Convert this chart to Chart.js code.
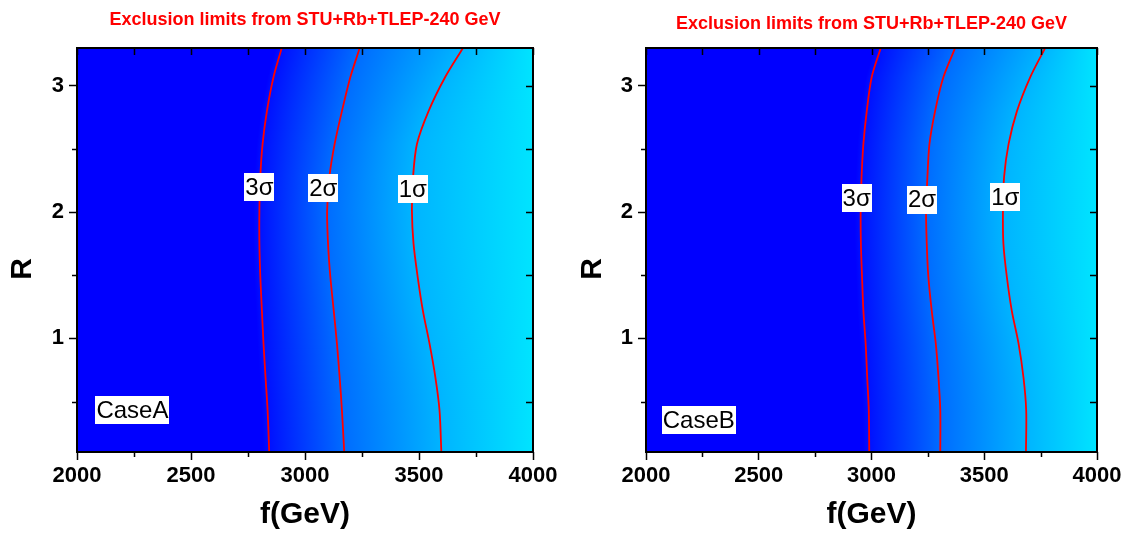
<!DOCTYPE html>
<html lang="en">
<head>
  <meta charset="utf-8">
  <title>Exclusion limits from STU+Rb+TLEP-240 GeV</title>
  <script src="https://cdn.jsdelivr.net/npm/chart.js"></script>
  <style>
    html, body { margin: 0; padding: 0; background: #fff; }
    body { width: 1128px; height: 533px; position: relative; overflow: hidden; }
    .panel { position: absolute; top: 0; width: 564px; height: 533px; }
  </style>
</head>
<body>
  <div class="panel" style="left:0"><canvas id="chartA"></canvas></div>
  <div class="panel" style="left:564px"><canvas id="chartB"></canvas></div>

  <script>
    // ---- data ----
    const titleText = 'Exclusion limits from STU+Rb+TLEP-240 GeV';
    const xTicks = [2000, 2500, 3000, 3500, 4000];
    const xMinor = [2250, 2750, 3250, 3750];
    const yTicks = [1, 2, 3];
    const yMinor = [0.5, 1.5, 2.5];

    // R values where the contours were read (top to bottom)
    const rValues = [3.3, 3.07, 2.80, 2.54, 2.28, 2.01, 1.75, 1.49, 1.22, 0.96, 0.69, 0.43, 0.1];

    // Case A contours, f (GeV) at each R
    const sigma3A = [2898, 2862, 2833, 2814, 2804, 2800, 2800, 2804, 2811, 2818, 2827, 2836, 2843];
    const sigma2A = [3240, 3199, 3162, 3130, 3107, 3097, 3101, 3111, 3126, 3140, 3152, 3162, 3172];
    const sigma1A = [3693, 3615, 3542, 3491, 3474, 3469, 3476, 3494, 3517, 3546, 3572, 3590, 3598];

    // Case B contours
    const sigma3B = [3041, 3001, 2979, 2964, 2956, 2952, 2953, 2958, 2964, 2974, 2981, 2988, 2990];
    const sigma2B = [3371, 3319, 3282, 3257, 3248, 3242, 3245, 3252, 3267, 3285, 3297, 3305, 3305];
    const sigma1B = [3770, 3704, 3645, 3608, 3588, 3583, 3585, 3600, 3622, 3652, 3674, 3686, 3685];

    const sigmaNames = ['3σ', '2σ', '1σ'];
    const sigmaLabelFA = [2800, 3080, 3473];
    const sigmaLabelRA = [2.20, 2.19, 2.18];
    const sigmaLabelFB = [2934, 3224, 3593];
    const sigmaLabelRB = [2.11, 2.10, 2.12];

    const caseNames = ['CaseA', 'CaseB'];
    const caseF = [2243, 2234];
    const caseR = [0.43, 0.35];

    // ---- styling ----
    const FONT = "'Liberation Sans', Arial, sans-serif";
    const bgColors = ['#0000FF', '#0000FF', '#0010FF', '#006CFF', '#00B4FF', '#00E4FF'];

    function interpAt(rs, fs, r) {
      for (let i = 0; i < rs.length - 1; i++) {
        if (r <= rs[i] && r >= rs[i + 1]) {
          const t = (r - rs[i]) / (rs[i + 1] - rs[i]);
          return fs[i] + t * (fs[i + 1] - fs[i]);
        }
      }
      return r > rs[0] ? fs[0] : fs[fs.length - 1];
    }

    // colour field: per row, the gradient follows the contour positions
    const heatmapPlugin = {
      id: 'heatmap',
      beforeDatasetsDraw(chart, args, opts) {
        const ctx = chart.ctx;
        const { left, right, top, bottom } = chart.chartArea;
        const xs = chart.scales.x, ys = chart.scales.y;
        const w = right - left;
        ctx.save();
        for (let y = Math.floor(top); y < bottom; y++) {
          const r = ys.getValueForPixel(y + 0.5);
          const p3 = xs.getPixelForValue(interpAt(rValues, opts.s3, r));
          const p2 = xs.getPixelForValue(interpAt(rValues, opts.s2, r));
          const p1 = xs.getPixelForValue(interpAt(rValues, opts.s1, r));
          const g = ctx.createLinearGradient(left, 0, right, 0);
          const fr = p => Math.min(1, Math.max(0, (p - left) / w));
          g.addColorStop(0, bgColors[0]);
          g.addColorStop(fr(p3 - 6), bgColors[1]);
          g.addColorStop(fr(p3), bgColors[2]);
          g.addColorStop(fr(p2), bgColors[3]);
          g.addColorStop(fr(p1), bgColors[4]);
          g.addColorStop(1, bgColors[5]);
          ctx.fillStyle = g;
          ctx.fillRect(left, y, w, 1);
        }
        ctx.restore();
      }
    };

    function boxLabel(ctx, text, cx, cy) {
      ctx.font = '24px ' + FONT;
      const tw = ctx.measureText(text).width;
      ctx.fillStyle = '#fff';
      ctx.fillRect(Math.round(cx - tw / 2 - 1), Math.round(cy - 14), Math.round(tw + 2), 28);
      ctx.fillStyle = '#000';
      ctx.textAlign = 'center';
      ctx.textBaseline = 'middle';
      ctx.fillText(text, cx, cy + 1);
    }

    const labelsPlugin = {
      id: 'labels',
      afterDatasetsDraw(chart, args, opts) {
        const ctx = chart.ctx;
        const xs = chart.scales.x, ys = chart.scales.y;
        ctx.save();
        sigmaNames.forEach((t, i) => {
          boxLabel(ctx, t, xs.getPixelForValue(opts.lf[i]), ys.getPixelForValue(opts.lr[i]));
        });
        boxLabel(ctx, caseNames[opts.ci], xs.getPixelForValue(caseF[opts.ci]), ys.getPixelForValue(caseR[opts.ci]));
        ctx.restore();
      },
      afterDraw(chart, args, opts) {
        const ctx = chart.ctx;
        const { left, right, top, bottom } = chart.chartArea;
        const xs = chart.scales.x, ys = chart.scales.y;
        ctx.save();
        ctx.strokeStyle = '#000';
        ctx.lineWidth = 1.5;
        ctx.beginPath();
        xTicks.concat(xMinor).forEach(v => {
          const px = Math.round(xs.getPixelForValue(v)) + 0.5;
          ctx.moveTo(px, top); ctx.lineTo(px, top + 7);
        });
        xMinor.forEach(v => {
          const px = Math.round(xs.getPixelForValue(v)) + 0.5;
          ctx.moveTo(px, bottom); ctx.lineTo(px, bottom + 5);
        });
        yTicks.concat(yMinor).forEach(v => {
          const py = Math.round(ys.getPixelForValue(v)) + 0.5;
          ctx.moveTo(right, py); ctx.lineTo(right - 7, py);
        });
        yMinor.forEach(v => {
          const py = Math.round(ys.getPixelForValue(v)) + 0.5;
          ctx.moveTo(left, py); ctx.lineTo(left - 5, py);
        });
        ctx.stroke();

        // frame
        ctx.lineWidth = 2;
        ctx.strokeRect(left, top, right - left, bottom - top);

        // title
        ctx.fillStyle = '#FF0000';
        ctx.font = 'bold 18px ' + FONT;
        ctx.textAlign = 'center';
        ctx.textBaseline = 'middle';
        ctx.fillText(titleText, (left + right) / 2, opts.titleY);

        // y axis title
        ctx.fillStyle = '#000';
        ctx.font = 'bold 30px ' + FONT;
        ctx.translate(opts.rX, 269);
        ctx.rotate(-Math.PI / 2);
        ctx.fillText('R', 0, 0);
        ctx.restore();
      }
    };

    function makeChart(id, s3, s2, s1, lf, lr, ci, plotLeft, titleY, rX) {
      const contour = fs => ({
        data: fs.map((f, i) => ({ x: f, y: rValues[i] })),
        showLine: true,
        borderColor: '#FF0000',
        borderWidth: 1.8,
        pointRadius: 0,
        tension: 0.3,
        fill: false
      });
      return new Chart(document.getElementById(id), {
        type: 'scatter',
        data: { datasets: [contour(s3), contour(s2), contour(s1)] },
        options: {
          responsive: true,
          maintainAspectRatio: false,
          animation: false,
          events: [],
          layout: { padding: { left: 0, right: 31, top: 48, bottom: 0 } },
          plugins: {
            legend: { display: false },
            tooltip: { enabled: false },
            heatmap: { s3, s2, s1 },
            labels: { lf, lr, ci, titleY, rX }
          },
          scales: {
            x: {
              type: 'linear',
              min: 2000,
              max: 4000,
              afterBuildTicks: s => { s.ticks = xTicks.map(v => ({ value: v })); },
              afterFit: s => { s.height = 81; },
              border: { display: false },
              grid: { drawOnChartArea: false, drawTicks: true, tickLength: 8, tickWidth: 1.5, tickColor: '#000' },
              ticks: {
                color: '#000',
                font: { family: FONT, size: 22, weight: 'bold' },
                padding: 3,
                maxRotation: 0,
                callback: v => String(v)
              },
              title: {
                display: true,
                text: 'f(GeV)',
                color: '#000',
                font: { family: FONT, size: 30, weight: 'bold', lineHeight: 1.2 },
                padding: { top: 0, bottom: 0 }
              }
            },
            y: {
              type: 'linear',
              min: 0.1,
              max: 3.3,
              afterBuildTicks: s => { s.ticks = yTicks.map(v => ({ value: v })); },
              afterFit: s => { s.width = plotLeft; },
              border: { display: false },
              grid: { drawOnChartArea: false, drawTicks: true, tickLength: 8, tickWidth: 1.5, tickColor: '#000' },
              ticks: {
                color: '#000',
                font: { family: FONT, size: 22, weight: 'bold' },
                padding: 5,
                callback: v => String(v)
              }
            }
          }
        },
        plugins: [heatmapPlugin, labelsPlugin]
      });
    }

    makeChart('chartA', sigma3A, sigma2A, sigma1A, sigmaLabelFA, sigmaLabelRA, 0, 77, 20, 23);
    makeChart('chartB', sigma3B, sigma2B, sigma1B, sigmaLabelFB, sigmaLabelRB, 1, 82, 24, 29);
  </script>
</body>
</html>
